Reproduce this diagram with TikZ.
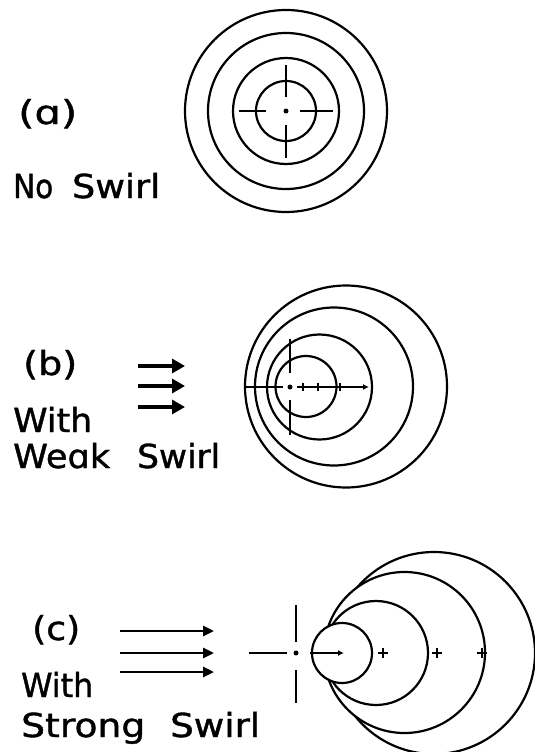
\documentclass[tikz,border=0pt]{standalone}
\usepackage{fontspec}
\setmainfont{DejaVu Sans}[FakeBold=1.2]
\usetikzlibrary{arrows.meta}
\newlength\wlen
\newcommand\fitword[2]{\settowidth\wlen{#2}\pgfmathsetmacro\sxf{#1/\the\wlen}\scalebox{\sxf}[1]{#2}}
\tikzset{
  word/.style={inner sep=0pt, anchor=base west, font=\fontsize{33}{36}\selectfont},
  ring/.style={line width=2.2pt, draw=black},
  ringw/.style={line width=2.2pt, draw=black, fill=white},
  axis/.style={line width=1.9pt},
  flow/.style={line width=3.2pt, -{Triangle[length=13pt,width=14pt]}},
  flowc/.style={line width=2.6pt, -{Triangle[length=11pt,width=10pt]}},
  tick/.style={line width=1.8pt},
  ctr/.style={circle, fill=black, inner sep=0pt, minimum size=5pt},
}
\begin{document}
\begin{tikzpicture}[x=1pt,y=-1pt]
\useasboundingbox (0,0) rectangle (535,752);

% ---------- labels ----------
\node[word] (la) at (18,124) {\fitword{59}{(ɑ)}};
\node[word] (no) at (13,198) {\fitword{40}{No}};
\node[word] (sw1) at (72,198) {\fitword{88}{Swirl}};

\node[word] (lb) at (23,375) {\fitword{54}{(b)}};
\node[word] (wi1) at (13,432) {\fitword{79}{With}};
\node[word] (we) at (13,468) {\fitword{97}{Weɑk}};
\node[word] (sw2) at (137,468) {\fitword{83}{Swirl}};

\node[word] (lc) at (32,640) {\fitword{48}{(c)}};
\node[word] (wi2) at (21,697) {\fitword{72}{With}};
\node[word] (st) at (21,737) {\fitword{124}{Strong}};
\node[word] (sw3) at (170,737) {\fitword{90}{Swirl}};

% ---------- flow arrows ----------
\coordinate (b1s) at (138,366); \coordinate (b1e) at (185,366);
\coordinate (b2s) at (138,386); \coordinate (b2e) at (185,386);
\coordinate (b3s) at (138,407); \coordinate (b3e) at (185,407);
\draw[flow] (b1s) -- (b1e);
\draw[flow] (b2s) -- (b2e);
\draw[flow] (b3s) -- (b3e);

\coordinate (c1s) at (120,631); \coordinate (c1e) at (214,631);
\coordinate (c2s) at (120,653); \coordinate (c2e) at (214,653);
\coordinate (c3s) at (120,672); \coordinate (c3e) at (214,672);
\draw[flowc] (c1s) -- (c1e);
\draw[flowc] (c2s) -- (c2e);
\draw[flowc] (c3s) -- (c3e);

% ---------- (a) no swirl ----------
\coordinate (ca) at (286,111);
\draw[ring] (ca) circle[radius=101];
\draw[ring] (ca) circle[radius=78];
\draw[ring] (ca) circle[radius=53];
\draw[ring] (ca) circle[radius=30];
\node[ctr] (pa) at (ca) {};
\coordinate (ah1) at (239,111); \coordinate (ah2) at (266,111);
\coordinate (ah3) at (300,111); \coordinate (ah4) at (333,111);
\coordinate (av1) at (286,65);  \coordinate (av2) at (286,97);
\coordinate (av3) at (286,125); \coordinate (av4) at (286,158);
\draw[axis] (ah1) -- (ah2) (ah3) -- (ah4) (av1) -- (av2) (av3) -- (av4);

% ---------- (b) weak swirl ----------
\draw[ring] (346,386.5) circle[radius=101];
\draw[ring] (334,386.5) circle[radius=79];
\draw[ring] (319.5,387) circle[radius=52.5];
\draw[ring] (306,386.5) circle[radius=30.5];
\coordinate (cb) at (290,387);
\node[ctr] (pb) at (cb) {};
\coordinate (bh1) at (245,387); \coordinate (bh2) at (283,387);
\coordinate (bh3) at (297,387); \coordinate (bh4) at (369,387);
\coordinate (bv1) at (290,339); \coordinate (bv2) at (290,373);
\coordinate (bv3) at (290,400); \coordinate (bv4) at (290,435);
\draw[axis] (bh1) -- (bh2) (bv1) -- (bv2) (bv3) -- (bv4);
\draw[axis, -{Latex[length=6pt,width=6pt]}] (bh3) -- (bh4);
\foreach \x in {303,318,340} \draw[tick] (\x,383) -- (\x,391);

% ---------- (c) strong swirl ----------
\draw[ringw] (434,653) circle[radius=101];
\draw[ringw] (404.5,652.5) circle[radius=80.5];
\draw[ringw] (376,653) circle[radius=52];
\draw[ringw] (342,653) circle[radius=30];
\coordinate (cc) at (296,653);
\node[ctr] (pc) at (cc) {};
\coordinate (ch1) at (249,653); \coordinate (ch2) at (287,653);
\coordinate (cv1) at (296,605); \coordinate (cv2) at (296,642);
\coordinate (cv3) at (296,670); \coordinate (cv4) at (296,703);
\coordinate (ca1) at (310,653); \coordinate (ca2) at (344,653);
\draw[axis] (ch1) -- (ch2) (cv1) -- (cv2) (cv3) -- (cv4);
\draw[axis, -{Latex[length=6pt,width=6pt]}] (ca1) -- (ca2);
\foreach \x in {383,437,482} {
  \draw[tick] (\x-5,653) -- (\x+5,653);
  \draw[tick] (\x,648) -- (\x,658);
}
\end{tikzpicture}
\end{document}
